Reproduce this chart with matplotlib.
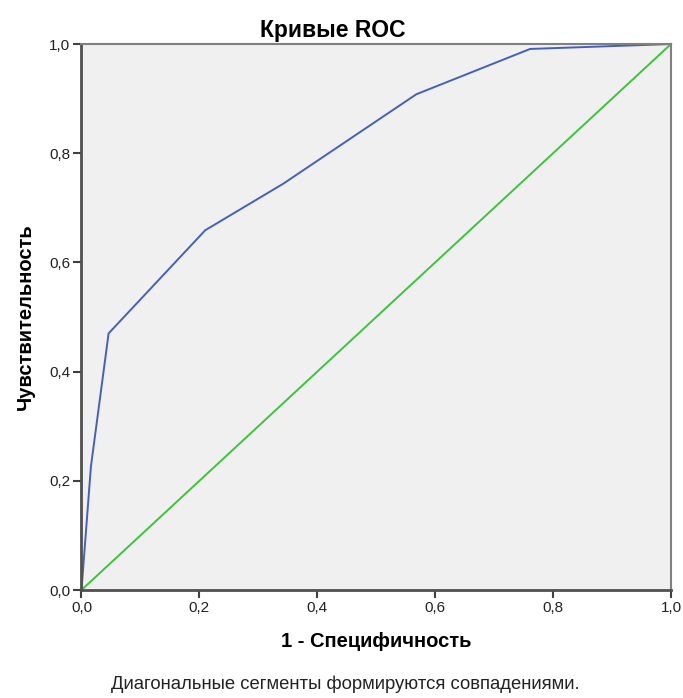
import numpy as np
import matplotlib.pyplot as plt

plt.rcParams['font.family'] = ['Liberation Sans', 'DejaVu Sans']

# ROC curve points (1 - specificity, sensitivity)
fpr = [0.0, 0.016, 0.046, 0.210, 0.342, 0.568, 0.761, 1.0]
tpr = [0.0, 0.226, 0.470, 0.659, 0.744, 0.908, 0.991, 1.0]
ref_line = [0.0, 1.0]
ticks = [0.0, 0.2, 0.4, 0.6, 0.8, 1.0]
tick_labels = ['0,0', '0,2', '0,4', '0,6', '0,8', '1,0']

fig = plt.figure(figsize=(6.83, 6.98), dpi=100)
ax = fig.add_axes([0.1193, 0.1547, 0.8631, 0.7822])
ax.set_facecolor('#f0f0f0')

ax.plot(ref_line, ref_line, color='#3cc43c', lw=1.4, clip_on=False)
ax.plot(fpr, tpr, color='#4560b8', lw=1.4, clip_on=False)

ax.set_xlim(0, 1)
ax.set_ylim(0, 1)
ax.set_xticks(ticks)
ax.set_xticklabels(tick_labels)
ax.set_yticks(ticks)
ax.set_yticklabels(tick_labels)
ax.tick_params(direction='out', length=6, width=1.5, color='#404040',
               labelsize=11, labelcolor='#222222', pad=2)

for side in ['left', 'bottom']:
    ax.spines[side].set_color('#505050')
    ax.spines[side].set_linewidth(2)
for side in ['top', 'right']:
    ax.spines[side].set_color('#808080')
    ax.spines[side].set_linewidth(1.5)

ax.set_title('Кривые ROC', fontsize=16.5, fontweight='bold', pad=5, x=0.427)
ax.set_xlabel('1 - Специфичность', fontsize=14.5, fontweight='bold', labelpad=12)
ax.set_ylabel('Чувствительность', fontsize=14.5, fontweight='bold', labelpad=10)

fig.text(0.505, 0.02, 'Диагональные сегменты формируются совпадениями.',
         ha='center', va='center', fontsize=13.3, color='#222222')

fig.savefig('out.png', dpi=100)
